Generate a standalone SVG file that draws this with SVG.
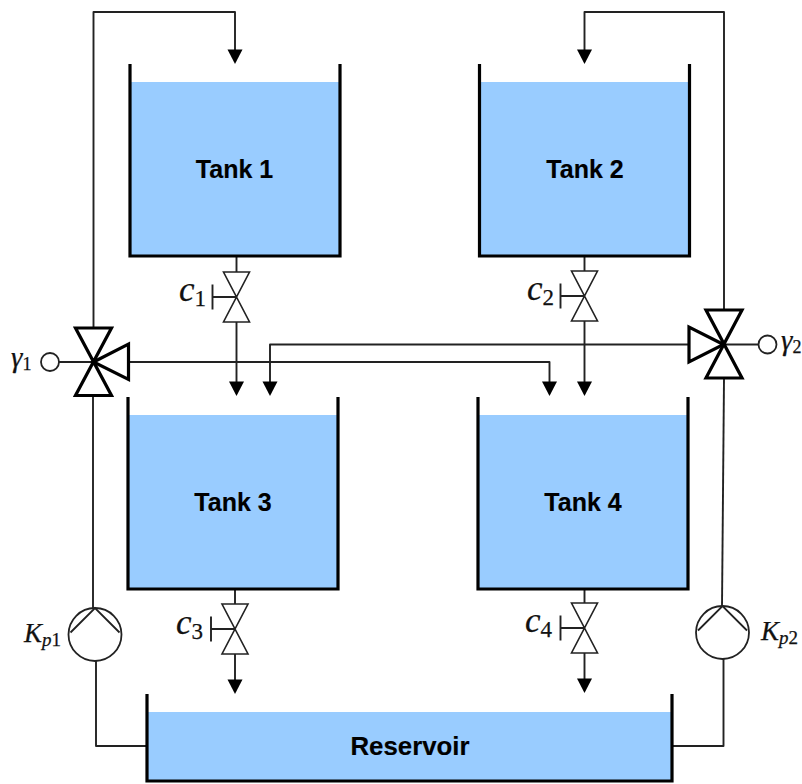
<svg xmlns="http://www.w3.org/2000/svg" width="802" height="784" viewBox="0 0 802 784">
<style>
.water{fill:#99ccff;stroke:none}
.wall{fill:none;stroke:#000;stroke-width:3.2;stroke-linecap:butt;stroke-linejoin:miter}
.pipe{fill:none;stroke:#222;stroke-width:1.9;stroke-linejoin:round}
.v{fill:#fff;stroke:#222;stroke-width:1.6;stroke-linejoin:miter}
.v3{fill:#fff;stroke:#000;stroke-width:3.2;stroke-linejoin:miter}
.pump{fill:#fff;stroke:#222;stroke-width:1.8}
.tl{font-family:"Liberation Sans",Arial,sans-serif;font-weight:700;font-size:25px;fill:#000;text-anchor:middle;stroke:#000;stroke-width:.15}
.m{font-family:"Liberation Serif","Times New Roman",serif;fill:#111;stroke:#111;stroke-width:.25}
.mi{font-style:italic}
.head{fill:#000;stroke:none}
</style>
<defs>
<path id="ah" class="head" d="M-7.5,-14.5H7.5L0,0Z"/>
<g id="valve">
<path class="v" d="M-13,-25H13L-13,25H13Z"/>
<path class="pipe" d="M0,0H-24M-24,-12.5V12.5"/>
</g>
<g id="pumpg">
<circle class="pump" r="26.5"/>
<path class="pump" style="fill:none" d="M-24.5,-2L0,-26.5L24.5,-2"/>
</g>
</defs>
<g id="connectors">
<path class="pipe" d="M93.5,327V12H235V50"/>
<path class="pipe" d="M724,309V12H584.5V50"/>
<path class="pipe" d="M236.5,257V272M236.5,322V384"/>
<path class="pipe" d="M584.5,257V271M584.5,321V384"/>
<path class="pipe" d="M235,590V604M235,654V682"/>
<path class="pipe" d="M584.5,590V603M584.5,653V681"/>
<path class="pipe" d="M129,362H549.5V384"/>
<path class="pipe" d="M689,344.5H270V384"/>
<path class="pipe" d="M59,362H93.5"/>
<path class="pipe" d="M723.5,344.5H759"/>
<path class="pipe" d="M93,396V609"/>
<path class="pipe" d="M724,379L722,607"/>
<path class="pipe" d="M96,661V746H147"/>
<path class="pipe" d="M723.5,659V746H672"/>
<use href="#ah" x="235" y="64"/>
<use href="#ah" x="584.5" y="64"/>
<use href="#ah" x="236.5" y="396"/>
<use href="#ah" x="270" y="396"/>
<use href="#ah" x="549.5" y="396"/>
<use href="#ah" x="584.5" y="396"/>
<use href="#ah" x="235" y="694"/>
<use href="#ah" x="584.5" y="693"/>
</g>
<g id="tank1">
<rect class="water" x="130" y="82" width="210" height="174"/>
<path class="wall" d="M130,64V256H340V64"/>
<text class="tl" x="234.5" y="178">Tank 1</text>
</g>
<g id="tank2">
<rect class="water" x="479.5" y="82" width="210" height="174"/>
<path class="wall" d="M479.5,64V256H689.5V64"/>
<text class="tl" x="585" y="178">Tank 2</text>
</g>
<g id="tank3">
<rect class="water" x="128" y="415" width="210" height="174"/>
<path class="wall" d="M128,397V589H338V397"/>
<text class="tl" x="233" y="511">Tank 3</text>
</g>
<g id="tank4">
<rect class="water" x="478" y="415" width="210" height="174"/>
<path class="wall" d="M478,397V589H688V397"/>
<text class="tl" x="583" y="511">Tank 4</text>
</g>
<g id="reservoir">
<rect class="water" x="147" y="712" width="525" height="69"/>
<path class="wall" d="M147,694V781H672V694"/>
<text class="tl" x="410" y="755" style="font-size:25.8px">Reservoir</text>
</g>
<g id="valve-c1">
<use href="#valve" x="236.5" y="297"/>
<text class="m" x="179" y="301" font-size="35"><tspan class="mi">c</tspan><tspan font-size="23" dy="5">1</tspan></text>
</g>
<g id="valve-c2">
<use href="#valve" x="584.5" y="296"/>
<text class="m" x="527" y="300" font-size="35"><tspan class="mi">c</tspan><tspan font-size="23" dy="5">2</tspan></text>
</g>
<g id="valve-c3">
<use href="#valve" x="235" y="629"/>
<text class="m" x="176" y="634" font-size="35"><tspan class="mi">c</tspan><tspan font-size="23" dy="5">3</tspan></text>
</g>
<g id="valve-c4">
<use href="#valve" x="584.5" y="628"/>
<text class="m" x="525" y="632" font-size="35"><tspan class="mi">c</tspan><tspan font-size="23" dy="5">4</tspan></text>
</g>
<g id="valve-gamma1">
<path class="v3" d="M75.5,328H111.5L75.5,395.5H111.5Z"/>
<path class="v3" d="M93.5,362L128.5,344V379.5Z"/>
<circle class="pump" cx="50" cy="362" r="9"/>
<text class="m" x="11" y="367" font-size="29"><tspan class="mi">γ</tspan><tspan font-size="18" dy="3">1</tspan></text>
</g>
<g id="valve-gamma2">
<path class="v3" d="M706,310H742L706,378H742Z"/>
<path class="v3" d="M723.5,344.5L689,327V362Z"/>
<circle class="pump" cx="767.5" cy="344.5" r="9"/>
<text class="m" x="781" y="350" font-size="29"><tspan class="mi">γ</tspan><tspan font-size="18" dy="3">2</tspan></text>
</g>
<g id="pump-p1">
<use href="#pumpg" x="95" y="634.5"/>
<text class="m" x="24" y="642" font-size="27"><tspan class="mi">K</tspan><tspan class="mi" font-size="19" dy="4">p</tspan><tspan font-size="19">1</tspan></text>
</g>
<g id="pump-p2">
<use href="#pumpg" x="722.5" y="632.5"/>
<text class="m" x="761" y="640" font-size="27"><tspan class="mi">K</tspan><tspan class="mi" font-size="19" dy="4">p</tspan><tspan font-size="19">2</tspan></text>
</g>
</svg>
